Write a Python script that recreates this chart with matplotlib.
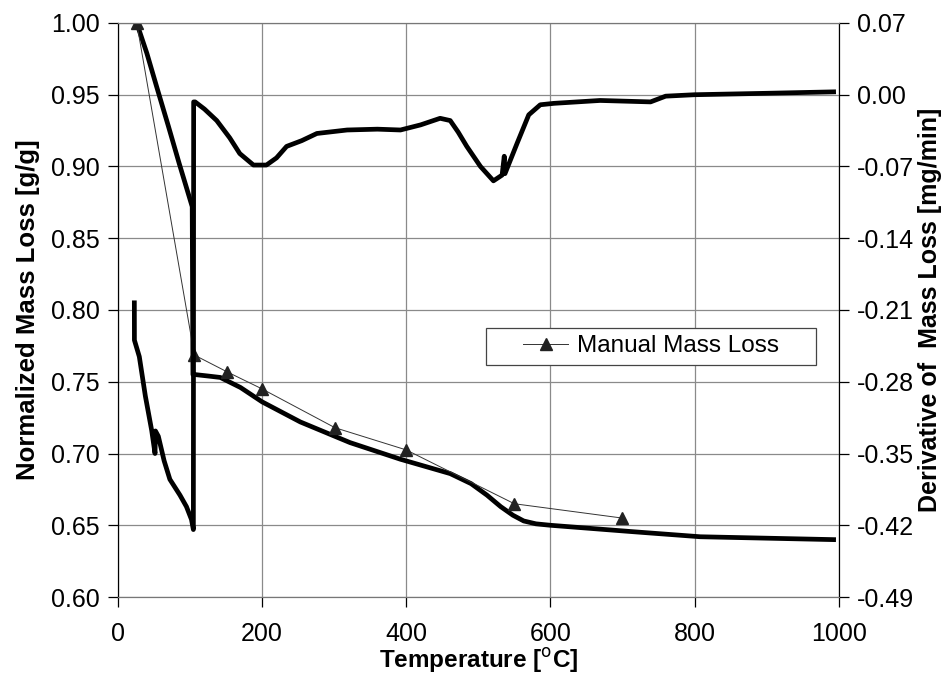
import matplotlib
matplotlib.use("Agg")
import matplotlib.pyplot as plt
from matplotlib.patches import Rectangle
import numpy as np

plt.rcParams['font.family'] = ['Liberation Sans', 'DejaVu Sans']

# Normalized mass loss curve (left axis)
mass_temp = [26, 40, 54, 70, 85, 103, 104, 107, 125, 142, 170, 200, 253, 322, 392,
             461, 490, 512, 531, 548, 563, 580, 600, 715, 808, 993]
mass_val = [1.000, 0.979, 0.955, 0.928, 0.902, 0.872, 0.755, 0.755, 0.754, 0.753,
            0.746, 0.736, 0.722, 0.7076, 0.696, 0.686, 0.679, 0.671, 0.663, 0.657,
            0.653, 0.651, 0.650, 0.6455, 0.642, 0.640]

# Derivative of mass loss (right axis, mg/min)
deriv_temp = [22.7, 22.8, 29.6, 38, 46.8, 51.4, 52, 56, 64, 72, 86, 95, 102, 104.6,
              105, 107, 120, 137, 155, 169, 188, 206, 220, 234, 255, 276, 318, 360,
              392, 420, 447, 461, 472, 484, 503, 521, 533, 536, 537, 553.7, 570, 586,
              605, 669, 739, 760, 800, 900, 993]
deriv_val = [-0.203, -0.2394, -0.2555, -0.294, -0.3276, -0.350, -0.328, -0.3332,
             -0.357, -0.3752, -0.3906, -0.4018, -0.4144, -0.4242,
             -0.007, -0.007, -0.014, -0.0252, -0.042, -0.0574, -0.0686, -0.0686,
             -0.0616, -0.0504, -0.0448, -0.0378, -0.0344, -0.0336, -0.0344, -0.0294,
             -0.023, -0.0252, -0.0364, -0.0504, -0.070, -0.084, -0.0784, -0.060,
             -0.077, -0.0476, -0.0196, -0.0098, -0.0084, -0.0056, -0.007, -0.0014,
             0.0, 0.0014, 0.0028]

# Manual mass loss points
manual_temp = [26, 106, 151, 200, 301, 400, 550, 700]
manual_val = [1.000, 0.7686, 0.757, 0.745, 0.718, 0.7025, 0.665, 0.655]

left_ticks = [0.60, 0.65, 0.70, 0.75, 0.80, 0.85, 0.90, 0.95, 1.00]
right_ticks = [-0.49, -0.42, -0.35, -0.28, -0.21, -0.14, -0.07, 0.00, 0.07]
x_ticks = [0, 200, 400, 600, 800, 1000]

fig = plt.figure(figsize=(9.53, 6.96), dpi=100)
ax = fig.add_axes([0.1238, 0.1422, 0.7562, 0.8248])
ax2 = ax.twinx()

ax.plot(mass_temp, mass_val, color='black', lw=3.4, solid_joinstyle='round', zorder=3)
ax.plot(manual_temp, manual_val, color='#333333', lw=0.7, marker='^', markersize=8,
        markerfacecolor='#222222', markeredgecolor='#222222', label='Manual Mass Loss', zorder=4)
ax2.plot(deriv_temp, deriv_val, color='black', lw=3.4, solid_joinstyle='round', zorder=3)

ax.set_xlim(0, 1000)
ax.set_ylim(0.60, 1.00)
ax2.set_ylim(-0.49, 0.07)
ax.set_xticks(x_ticks)
ax.set_yticks(left_ticks)
ax.set_yticklabels([f"{v:.2f}" for v in left_ticks])
ax2.set_yticks(right_ticks)
ax2.set_yticklabels([f"{v:.2f}" for v in right_ticks])

ax.grid(True, color='#8a8a8a', lw=0.9)
ax.set_axisbelow(True)

for a in (ax, ax2):
    a.tick_params(labelsize=18, length=7, width=0.9, direction='out', pad=6)
    a.spines['top'].set_color('#777777')
    a.spines['bottom'].set_color('#777777')
    a.spines['left'].set_color('black')
    a.spines['right'].set_color('black')
ax.tick_params(axis='x', pad=11)

ax.set_xlabel('Temperature [$^{\\mathrm{o}}$C]', fontsize=17.5, fontweight='bold', labelpad=0)
ax.set_ylabel('Normalized Mass Loss [g/g]', fontsize=18.5, fontweight='bold', labelpad=8)
ax2.set_ylabel('Derivative of  Mass Loss [mg/min]', fontsize=18, fontweight='bold', labelpad=3)

# legend box
box = Rectangle((0.51, 0.404), 0.458, 0.065, transform=ax.transAxes, facecolor='white',
                edgecolor='#444444', lw=0.9, zorder=9)
ax.add_patch(box)
leg = ax.legend(loc='center', bbox_to_anchor=(0.7394, 0.4365), fontsize=17.5,
                frameon=False, handlelength=1.85, handletextpad=0.35, borderpad=0.2,
                borderaxespad=0)
leg.set_zorder(10)

fig.savefig('out.png', dpi=100)
